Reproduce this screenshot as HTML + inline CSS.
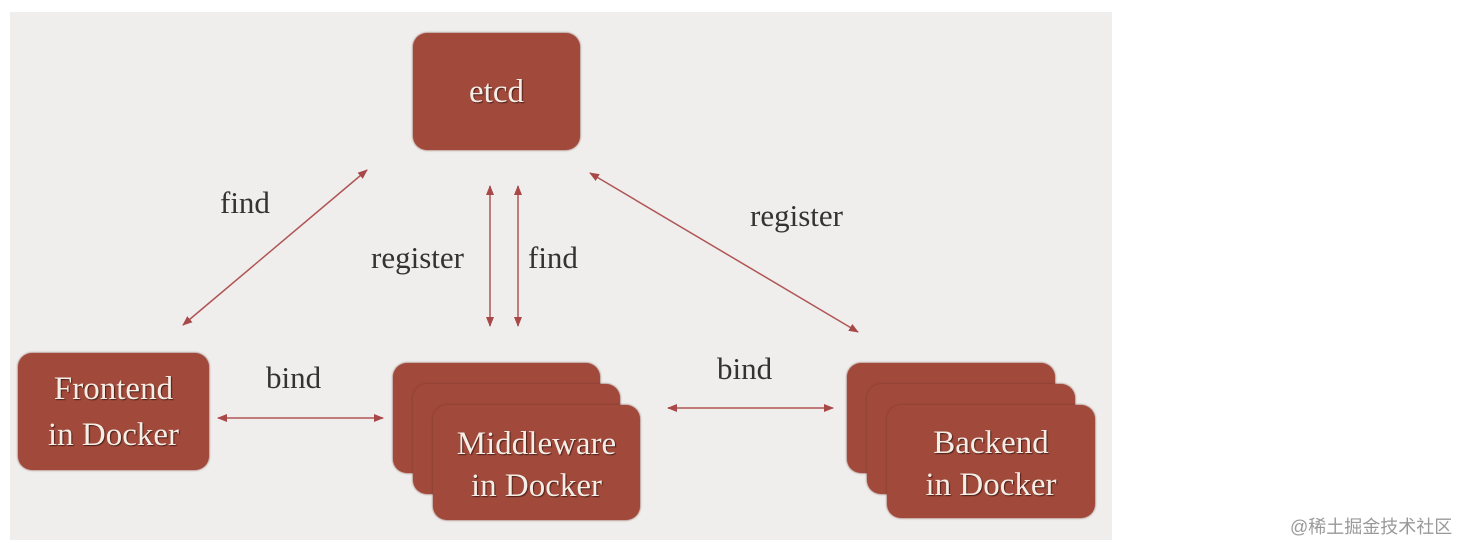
<!DOCTYPE html>
<html><head><meta charset="utf-8"><style>
body{margin:0;width:1470px;height:552px;background:#fff;position:relative;overflow:hidden;font-family:"Liberation Serif",serif}
.bg{position:absolute;left:10px;top:12px;width:1102px;height:528px;background:#efeeec}
.b{position:absolute;background:#a1493b;border-radius:14px;box-shadow:0 0 2px #7a3a30;color:#f4eee6;font-size:33px;text-shadow:1px 1px 1px #4a2018;display:flex;align-items:center;justify-content:center;text-align:center;line-height:46px}
.l{position:absolute;font-size:31px;color:#333}
</style></head><body>
<div class="bg"></div>
<div class="b" style="left:413px;top:33px;width:167px;height:117px">etcd</div>
<div class="b" style="left:18px;top:353px;width:191px;height:117px">Frontend<br>in Docker</div>
<div class="b" style="left:393px;top:363px;width:207px;height:110px"></div>
<div class="b" style="left:413px;top:384px;width:207px;height:110px"></div>
<div class="b" style="left:433px;top:405px;width:207px;height:115px;line-height:42px;padding-top:5px;box-sizing:border-box">Middleware<br>in Docker</div>
<div class="b" style="left:847px;top:363px;width:208px;height:110px"></div>
<div class="b" style="left:867px;top:384px;width:208px;height:110px"></div>
<div class="b" style="left:887px;top:405px;width:208px;height:113px;line-height:42px;padding-top:5px;box-sizing:border-box">Backend<br>in Docker</div>
<svg style="position:absolute;left:0;top:0" width="1470" height="552">
<defs><marker id="a" markerWidth="10" markerHeight="8" refX="9" refY="4" orient="auto-start-reverse" markerUnits="userSpaceOnUse"><path d="M0,0L10,4L0,8z" fill="#a84848"/></marker></defs>
<g stroke="#b05555" stroke-width="1.5" marker-start="url(#a)" marker-end="url(#a)">
<line x1="367" y1="170" x2="183" y2="325"/>
<line x1="490" y1="186" x2="490" y2="326"/>
<line x1="518" y1="186" x2="518" y2="326"/>
<line x1="590" y1="173" x2="858" y2="332"/>
<line x1="218" y1="418" x2="383" y2="418"/>
<line x1="668" y1="408" x2="833" y2="408"/>
</g></svg>
<div class="l" style="left:220px;top:185px">find</div>
<div class="l" style="left:371px;top:240px">register</div>
<div class="l" style="left:528px;top:240px">find</div>
<div class="l" style="left:750px;top:198px">register</div>
<div class="l" style="left:266px;top:360px">bind</div>
<div class="l" style="left:717px;top:351px">bind</div>
<div style="position:absolute;left:1290px;top:513px;font-size:18px;color:#999;font-family:'Liberation Sans','Noto Sans CJK SC',sans-serif">@稀土掘金技术社区</div>
</body></html>
